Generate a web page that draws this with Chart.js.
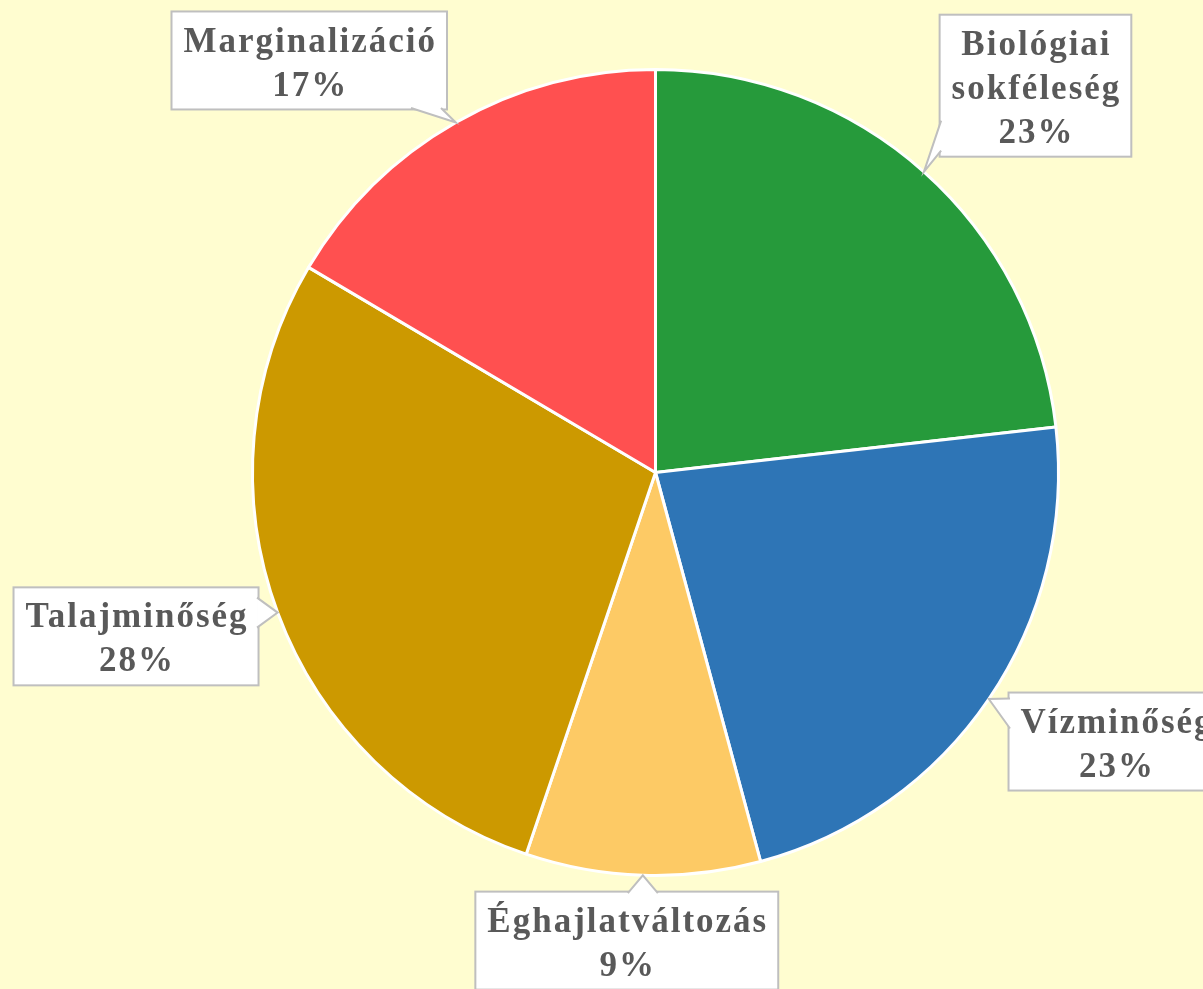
<!DOCTYPE html>
<html>
<head>
<meta charset="utf-8">
<script src="https://cdn.jsdelivr.net/npm/chart.js@4.4.1/dist/chart.umd.min.js"></script>
<style>
  html, body { margin: 0; padding: 0; background: #fffdd0; }
  #wrap { width: 1203px; height: 989px; }
</style>
</head>
<body>
<div id="wrap"><canvas id="miGrafico" width="1203" height="989"></canvas></div>
<script>
// datos del grafico
const categories = [['Biológiai', 'sokféleség'], 'Vízminőség', 'Éghajlatváltozás', 'Talajminőség', 'Marginalizáció'];
const values = [23.2, 22.6, 9.4, 28.3, 16.5];
const colors = ['#269a3b', '#2e75b6', '#fdca65', '#cc9900', '#ff5050'];

// top-left corner of each callout box, in pie radii from the centre
const boxPos = [[0.705, -1.136], [0.876, 0.546], [-0.447, 1.040], [-1.593, 0.285], [-1.201, -1.144]];

const total = values.reduce((a, b) => a + b, 0);

const calloutPlugin = {
  id: 'callouts',
  afterDatasetsDraw(chart) {
    const ctx = chart.ctx;
    const meta = chart.getDatasetMeta(0);
    const padX = 11, padY = 5, lineH = 44, base = 30;
    ctx.save();
    ctx.font = 'bold 35px "Liberation Serif"';
    ctx.letterSpacing = '2px';
    meta.data.forEach((arc, i) => {
      const p = arc.getProps(['x', 'y', 'startAngle', 'endAngle', 'outerRadius'], true);
      const mid = (p.startAngle + p.endAngle) / 2;
      const ax = p.x + Math.cos(mid) * p.outerRadius;
      const ay = p.y + Math.sin(mid) * p.outerRadius;
      const name = categories[i];
      const lines = (Array.isArray(name) ? name : [name]).concat(Math.round(values[i] / total * 100) + '%');
      const w = Math.max(...lines.map(l => ctx.measureText(l).width)) + 2 * padX;
      const h = lines.length * lineH + 2 * padY;
      const bx = p.x + boxPos[i][0] * p.outerRadius;
      const by = p.y + boxPos[i][1] * p.outerRadius;

      // box
      ctx.fillStyle = '#ffffff';
      ctx.fillRect(bx, by, w, h);
      ctx.strokeStyle = '#bfbfbf';
      ctx.lineWidth = 2;
      ctx.strokeRect(bx, by, w, h);

      // wedge pointing to the slice
      const outs = { left: bx - ax, right: ax - (bx + w), top: by - ay, bottom: ay - (by + h) };
      const side = Object.keys(outs).reduce((a, b) => outs[a] >= outs[b] ? a : b);
      const clamp = (v, lo, hi) => Math.min(Math.max(v, lo), hi);
      let p1, p2;
      if (side === 'left' || side === 'right') {
        const cy = clamp(ay, by + base / 2 + 6, by + h - base / 2 - 6);
        const ex = side === 'left' ? bx + 1.5 : bx + w - 1.5;
        p1 = [ex, cy - base / 2]; p2 = [ex, cy + base / 2];
      } else {
        const cx = clamp(ax, bx + base / 2 + 6, bx + w - base / 2 - 6);
        const ey = side === 'top' ? by + 1.5 : by + h - 1.5;
        p1 = [cx - base / 2, ey]; p2 = [cx + base / 2, ey];
      }
      ctx.beginPath();
      ctx.moveTo(p1[0], p1[1]);
      ctx.lineTo(ax, ay);
      ctx.lineTo(p2[0], p2[1]);
      ctx.closePath();
      ctx.fill();
      ctx.beginPath();
      ctx.moveTo(p1[0], p1[1]);
      ctx.lineTo(ax, ay);
      ctx.lineTo(p2[0], p2[1]);
      ctx.stroke();

      // texto
      ctx.fillStyle = '#595959';
      ctx.textAlign = 'center';
      ctx.textBaseline = 'middle';
      lines.forEach((l, k) => {
        ctx.fillText(l, bx + w / 2 + 1, by + padY + lineH * (k + 0.5) + 4);
      });
    });
    ctx.restore();
  }
};

var ctx = document.getElementById('miGrafico').getContext('2d');

var chart = new Chart(ctx, {
  type: 'pie',
  data: {
    labels: categories,
    datasets: [{
      data: values,
      backgroundColor: colors,
      borderColor: '#ffffff',
      borderWidth: 3,
      hoverOffset: 0
    }]
  },
  options: {
    responsive: false,
    animation: false,
    layout: { padding: { left: 251, right: 143, top: 68, bottom: 112 } },
    plugins: {
      legend: { display: false },
      tooltip: { enabled: false }
    }
  },
  plugins: [calloutPlugin]
});
</script>
</body>
</html>
